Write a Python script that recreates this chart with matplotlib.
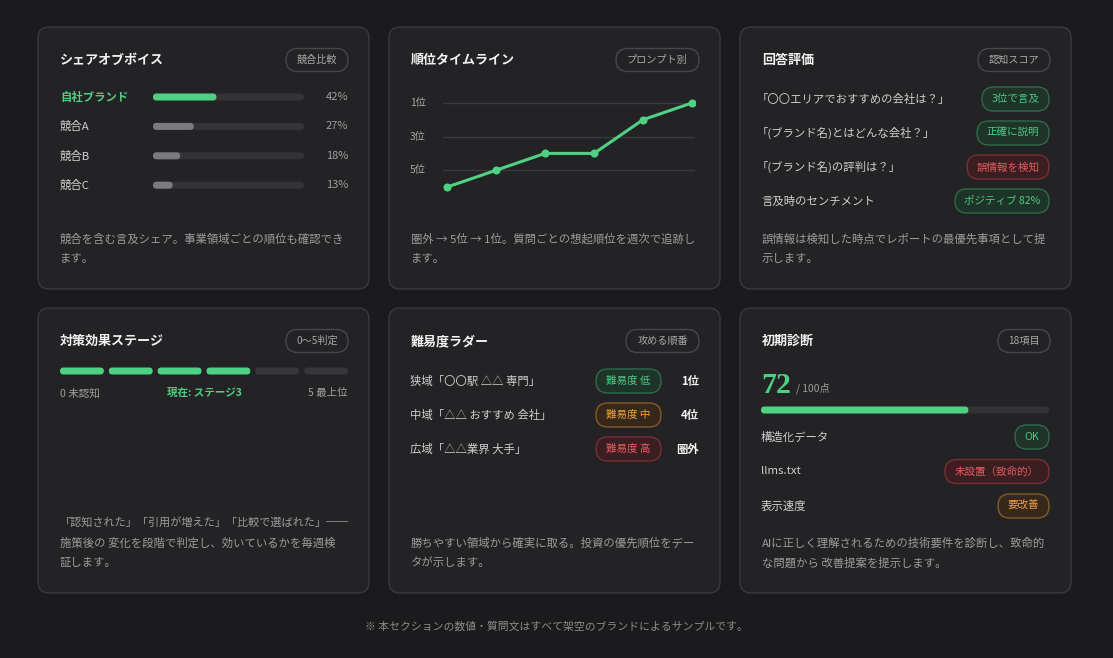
import matplotlib
matplotlib.use("Agg")
import matplotlib.pyplot as plt
from matplotlib.patches import FancyBboxPatch

plt.rcParams['font.family'] = ['Noto Sans CJK JP', 'DejaVu Sans']

# ---------------- data ----------------
share_labels = ["自社ブランド", "競合A", "競合B", "競合C"]
share_values = [42, 27, 18, 13]

timeline_ranks = [6, 5, 4, 4, 2, 1]          # 6 = 圏外
timeline_ticks = [1, 3, 5]
timeline_ticklabels = ["1位", "3位", "5位"]

eval_questions = ["「〇〇エリアでおすすめの会社は？」", "「(ブランド名)とはどんな会社？」",
                  "「(ブランド名)の評判は？」", "言及時のセンチメント"]
eval_results = ["3位で言及", "正確に説明", "誤情報を検知", "ポジティブ 82%"]
eval_status = ["good", "good", "bad", "good"]

stage_current = 3
stage_max = 5
stage_labels = ["0 未認知", "現在: ステージ3", "5 最上位"]

ladder_labels = ["狭域「〇〇駅 △△ 専門」", "中域「△△ おすすめ 会社」", "広域「△△業界 大手」"]
ladder_levels = ["難易度 低", "難易度 中", "難易度 高"]
ladder_status = ["good", "warn", "bad"]
ladder_ranks = ["1位", "4位", "圏外"]

diag_score = 72
diag_max = 100
diag_items = ["構造化データ", "llms.txt", "表示速度"]
diag_results = ["OK", "未設置（致命的）", "要改善"]
diag_status = ["good", "bad", "warn"]

titles = ["シェアオブボイス", "順位タイムライン", "回答評価", "対策効果ステージ", "難易度ラダー", "初期診断"]
badges = ["競合比較", "プロンプト別", "認知スコア", "0〜5判定", "攻める順番", "18項目"]
descriptions = [
    ["競合を含む言及シェア。事業領域ごとの順位も確認でき", "ます。"],
    ["圏外 → 5位 → 1位。質問ごとの想起順位を週次で追跡し", "ます。"],
    ["誤情報は検知した時点でレポートの最優先事項として提", "示します。"],
    ["「認知された」「引用が増えた」「比較で選ばれた」──", "施策後の 変化を段階で判定し、効いているかを毎週検", "証します。"],
    ["勝ちやすい領域から確実に取る。投資の優先順位をデー", "タが示します。"],
    ["AIに正しく理解されるための技術要件を診断し、致命的", "な問題から 改善提案を提示します。"],
]
footer = "※ 本セクションの数値・質問文はすべて架空のブランドによるサンプルです。"

# ---------------- style ----------------
BG = "#1b1b1d"
CARD = "#232325"
BORDER = "#3a3a3d"
GREEN = "#4fd183"
TITLE_C = "#f2f2f2"
LABEL_C = "#cfcfcf"
BODY_C = "#9c9c9c"
TRACK = "#343436"
STATUS = {
    "good": dict(fc="#1e3429", ec="#2f6a49", tc="#4fc884"),
    "bad": dict(fc="#3a1e21", ec="#7a2f35", tc="#e55a5e"),
    "warn": dict(fc="#36281a", ec="#8a5a26", tc="#f0a043"),
}

W, H = 1113, 658
fig = plt.figure(figsize=(W / 100, H / 100), dpi=100, facecolor=BG)
ax = fig.add_axes([0, 0, 1, 1])
ax.set_xlim(0, W)
ax.set_ylim(H, 0)
ax.axis("off")
ax.set_facecolor(BG)


def rbox(x, y, w, h, r, fc, ec="none", lw=1.0, z=1):
    p = FancyBboxPatch((x, y), w, h, boxstyle=f"round,pad=0,rounding_size={r}",
                       fc=fc, ec=ec, lw=lw, zorder=z)
    ax.add_patch(p)
    return p


def pill_right(xr, yc, w, text, status, h=24, fs=7.6):
    s = STATUS[status]
    rbox(xr - w, yc - h / 2, w, h, h / 2, s["fc"], s["ec"], 1.0, z=3)
    ax.text(xr - w / 2, yc, text, color=s["tc"], fontsize=fs, ha="center", va="center", zorder=4)


def badge(xr, yc, w, text):
    h = 23
    rbox(xr - w, yc - h / 2, w, h, h / 2, CARD, "#48484b", 1.0, z=3)
    ax.text(xr - w / 2, yc, text, color="#a8a8a8", fontsize=7.3, ha="center", va="center", zorder=4)


col_x = [38, 389, 740]
row_y = [27, 308]
row_h = [262, 285]
card_w = 331
badge_w = [62, 83, 72, 62, 73, 52]

for i in range(6):
    cx = col_x[i % 3]
    cy = row_y[i // 3]
    ch = row_h[i // 3]
    rbox(cx, cy, card_w, ch, 11, CARD, BORDER, 1.0, z=1)
    ax.text(cx + 22, cy + 33, titles[i], color=TITLE_C, fontsize=9.4, fontweight="bold",
            ha="left", va="center", zorder=4)
    badge(cx + 310, cy + 33, badge_w[i], badges[i])
    n = len(descriptions[i])
    base = cy + ch - 30 - 20 * (n - 1)
    for k, line in enumerate(descriptions[i]):
        ax.text(cx + 22, base + 20 * k, line, color=BODY_C,
                fontsize=8.0 if line.endswith("──") else 8.2, ha="left",
                va="center", zorder=4)

# ---- card 1: share of voice ----
tx0, tw, th = 153, 151, 7
for k, (lab, val) in enumerate(zip(share_labels, share_values)):
    y = 97 + 29.4 * k
    own = k == 0
    ax.text(60, y, lab, color=GREEN if own else LABEL_C, fontsize=8.2,
            fontweight="bold" if own else "normal", ha="left", va="center", zorder=4)
    rbox(tx0, y - th / 2, tw, th, th / 2, TRACK, z=2)
    rbox(tx0, y - th / 2, tw * val / 100, th, th / 2, GREEN if own else "#7b7b7d", z=3)
    ax.text(348, y, f"{val}%", color="#a0a0a0", fontsize=8.0, ha="right", va="center", zorder=4)

# ---- card 2: rank timeline ----
axl_px = (443, 695, 95, 195)  # left, right, top, bottom in px
lax = fig.add_axes([axl_px[0] / W, 1 - axl_px[3] / H, (axl_px[1] - axl_px[0]) / W,
                    (axl_px[3] - axl_px[2]) / H])
lax.patch.set_alpha(0)
for s in lax.spines.values():
    s.set_visible(False)
xs = list(range(len(timeline_ranks)))
lax.set_xlim(-0.082, 5.061)
lax.set_ylim(6.47, 0.53)
for t in timeline_ticks:
    lax.axhline(t, color="#3a3a3c", lw=1.0, zorder=1)
lax.plot(xs, timeline_ranks, color=GREEN, lw=2.2, marker="o", markersize=4.8, zorder=3,
         solid_capstyle="round")
lax.set_xticks([])
lax.set_yticks([])
lbl_x = (410 - axl_px[0]) / (axl_px[1] - axl_px[0])
for t, lab in zip(timeline_ticks, timeline_ticklabels):
    lax.text(lbl_x, t, lab, transform=lax.get_yaxis_transform(), color="#a8a8a8",
             fontsize=7.4, ha="left", va="center", clip_on=False)

# ---- card 3: answer evaluation ----
eval_w = [67, 72, 82, 94]
for k in range(4):
    y = 99 + 34 * k
    ax.text(757 if k < 3 else 761, y, eval_questions[k], color=LABEL_C, fontsize=8.2,
            ha="left", va="center", zorder=4)
    pill_right(1049, y, eval_w[k], eval_results[k], eval_status[k])

# ---- card 4: stages ----
seg_x0, seg_x1 = 60, 348
nseg = stage_max + 1
gap = 5
seg_w = (seg_x1 - seg_x0 - gap * (nseg - 1)) / nseg
for k in range(nseg):
    x = seg_x0 + k * (seg_w + gap)
    rbox(x, 371 - 3.5, seg_w, 7, 3.5, GREEN if k <= stage_current else "#37373a", z=3)
ax.text(60, 393, stage_labels[0], color="#a0a0a0", fontsize=7.6, ha="left", va="center")
ax.text(204, 393, stage_labels[1], color=GREEN, fontsize=7.6, fontweight="bold",
        ha="center", va="center")
ax.text(348, 393, stage_labels[2], color="#a0a0a0", fontsize=7.6, ha="right", va="center")

# ---- card 5: difficulty ladder ----
for k in range(3):
    y = 381 + 34 * k
    ax.text(410, y, ladder_labels[k], color=LABEL_C, fontsize=8.2, ha="left", va="center", zorder=4)
    pill_right(661, y, 65, ladder_levels[k], ladder_status[k])
    ax.text(699, y, ladder_ranks[k], color="#f2f2f2", fontsize=8.2, fontweight="bold",
            ha="right", va="center", zorder=4)

# ---- card 6: initial diagnosis ----
ax.text(761, 393, f"{diag_score}", color=GREEN, fontsize=21.5, fontweight="bold",
        family="Liberation Serif", ha="left", va="baseline", zorder=4)
ax.text(796, 392, f"/ {diag_max}点", color="#a0a0a0", fontsize=7.4, ha="left",
        va="baseline", zorder=4)
rbox(761, 410 - 3.5, 288, 7, 3.5, TRACK, z=2)
rbox(761, 410 - 3.5, 288 * diag_score / diag_max, 7, 3.5, GREEN, z=3)
diag_w = [34, 104, 51]
for k in range(3):
    y = 437 + 34.5 * k
    ax.text(761, y, diag_items[k], color=LABEL_C, fontsize=8.2, ha="left", va="center", zorder=4)
    pill_right(1049, y, diag_w[k], diag_results[k], diag_status[k])

# ---- footer ----
ax.text(W / 2, 626, footer, color="#8c8c8c", fontsize=7.8, ha="center", va="center")

fig.savefig("out.png", dpi=100, facecolor=BG)
